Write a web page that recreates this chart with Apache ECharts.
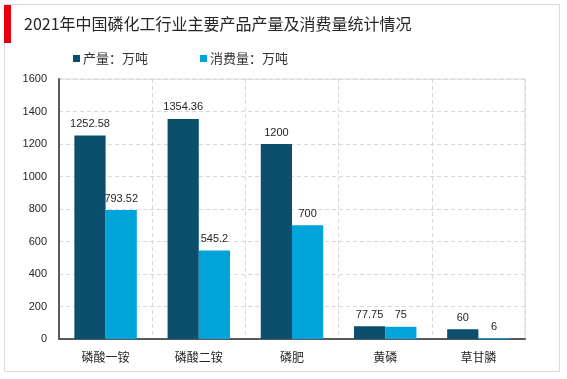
<!DOCTYPE html>
<html><head><meta charset="utf-8">
<script src="https://cdn.jsdelivr.net/npm/echarts@6/dist/echarts.min.js"></script>
<style>html,body{margin:0;padding:0;background:#fff}#c{width:567px;height:379px}</style>
</head><body><div id="c"></div>
<script>
const categories = ['磷酸一铵','磷酸二铵','磷肥','黄磷','草甘膦'];
const production = [1252.58, 1354.36, 1200, 77.75, 60];
const consumption = [793.52, 545.2, 700, 75, 6];
const seriesNames = ['产量：万吨','消费量：万吨'];
const titleText = '2021年中国磷化工行业主要产品产量及消费量统计情况';
const font = '"Microsoft YaHei","Noto Sans CJK SC",sans-serif';
const numFont = 'Arial,"Liberation Sans",sans-serif';
const chart = echarts.init(document.getElementById('c'));
chart.setOption({
  animation:false,
  graphic:[
    {type:'rect',shape:{x:4.5,y:4.5,width:555,height:367},style:{fill:'none',stroke:'#d9d9d9',lineWidth:1}},
    {type:'rect',shape:{x:4,y:5,width:7,height:38},style:{fill:'#e60012'}},
    {type:'text',left:24,top:16,style:{text:titleText,font:'16px '+font,fill:'#262626'}}
  ],
  legend:{top:47,left:68,itemGap:52,itemWidth:7,itemHeight:7,icon:'rect',
    textStyle:{fontSize:13,color:'#333',fontFamily:font,padding:[0,0,0,-2]},data:seriesNames},
  grid:{left:59,right:42,top:79,bottom:40,show:true,borderColor:'#d9d9d9',borderWidth:1},
  xAxis:{type:'category',data:categories,
    axisLine:{lineStyle:{color:'#595959',width:2}},axisTick:{show:false},
    axisLabel:{fontSize:12,color:'#262626',fontFamily:font,margin:12},
    splitLine:{show:true,lineStyle:{color:'#d9d9d9',type:[4,3]}}},
  yAxis:{type:'value',min:0,max:1600,interval:200,
    axisLine:{show:true,lineStyle:{color:'#595959',width:2}},axisTick:{show:false},
    axisLabel:{fontSize:11,color:'#262626',fontFamily:numFont,margin:12,formatter:v=>String(v)},
    splitLine:{lineStyle:{color:'#d9d9d9',type:[4,3]}}},
  series:[
    {name:seriesNames[0],type:'bar',data:production,barGap:'0%',barCategoryGap:'33%',
     itemStyle:{color:'#0b4f6c'},
     label:{show:true,position:'top',distance:6,fontSize:11,color:'#262626',fontFamily:numFont}},
    {name:seriesNames[1],type:'bar',data:consumption,
     itemStyle:{color:'#00a3da'},
     label:{show:true,position:'top',distance:6,fontSize:11,color:'#262626',fontFamily:numFont}}
  ]
});
</script></body></html>
